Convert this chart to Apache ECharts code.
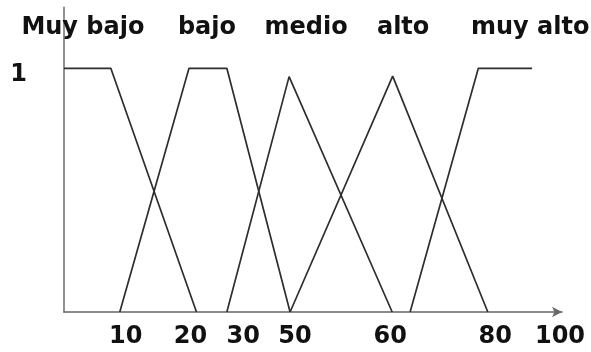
<!DOCTYPE html>
<html>
<head>
<meta charset="utf-8">
<style>
  html, body { margin: 0; padding: 0; background: #fff; }
  #chart { width: 591px; height: 352px; }
</style>
<script src="https://cdn.jsdelivr.net/npm/echarts@6/dist/echarts.min.js"></script>
</head>
<body>
<div id="chart"></div>
<script>
// Membership functions of the five linguistic terms, on a schematic 0–100 axis.
// Each point is [position along the axis, membership degree].
const muyBajo = [[0, 1], [9.4, 1], [26.6, 0]];
const bajo    = [[11.2, 0], [25.1, 1], [32.7, 1], [45.4, 0]];
const medio   = [[32.7, 0], [45.2, 0.966], [65.9, 0]];
const alto    = [[45.4, 0], [66.0, 0.968], [85.1, 0]];
const muyAlto = [[69.5, 0], [83.2, 1], [94.0, 1]];

// Term names and where each one is written above its curve.
const termNames = ['Muy bajo', 'bajo', 'medio', 'alto', 'muy alto'];
const termNameAt = [3.8, 28.7, 48.6, 68.1, 93.6];
const termNameLevel = 1.165;

// Tick labels of the horizontal axis and their positions.
const tickText = ['10', '20', '30', '50', '60', '80', '100'];
const tickAt = [12.4, 25.4, 36.0, 46.4, 65.5, 86.6, 99.6];

const font = 'DejaVu Sans';
const lineStyle = { color: '#2e2e2e', width: 1.7 };
const curve = (name, data) => ({
  name, type: 'line', data, symbol: 'none', silent: true,
  lineStyle, z: 3
});

const chart = echarts.init(document.getElementById('chart'), null, { renderer: 'canvas' });
chart.setOption({
  animation: false,
  backgroundColor: '#ffffff',
  grid: { left: 64, right: 29, top: 7.4, bottom: 40, containLabel: false },
  xAxis: {
    type: 'value', min: 0, max: 100,
    splitLine: { show: false },
    axisTick: { show: false },
    axisLine: {
      show: true, onZero: false,
      symbol: ['none', 'arrow'], symbolSize: [8, 10],
      lineStyle: { color: '#666', width: 1.6 }
    },
    axisLabel: {
      customValues: tickAt,
      formatter: (v) => tickText[tickAt.indexOf(v)],
      margin: 13,
      fontFamily: font, fontWeight: 'bold', fontSize: 24, color: '#111'
    }
  },
  yAxis: {
    type: 'value', min: 0, max: 1.25,
    splitLine: { show: false },
    axisTick: { show: false },
    axisLine: { show: true, lineStyle: { color: '#777', width: 1.6 } },
    axisLabel: {
      customValues: [1],
      formatter: () => '1',
      margin: 37,
      verticalAlign: 'top',
      lineHeight: 12,
      fontFamily: font, fontWeight: 'bold', fontSize: 24, color: '#111'
    }
  },
  series: [
    curve('Muy bajo', muyBajo),
    curve('bajo', bajo),
    curve('medio', medio),
    curve('alto', alto),
    curve('muy alto', muyAlto),
    {
      type: 'scatter', silent: true, symbolSize: 0,
      itemStyle: { opacity: 1 },
      data: termNames.map((n, i) => ({ name: n, value: [termNameAt[i], termNameLevel] })),
      label: {
        show: true, position: 'inside',
        formatter: (p) => p.name,
        fontFamily: font, fontWeight: 'bold', fontSize: 24, color: '#111'
      },
      z: 4
    }
  ]
});
</script>
</body>
</html>
